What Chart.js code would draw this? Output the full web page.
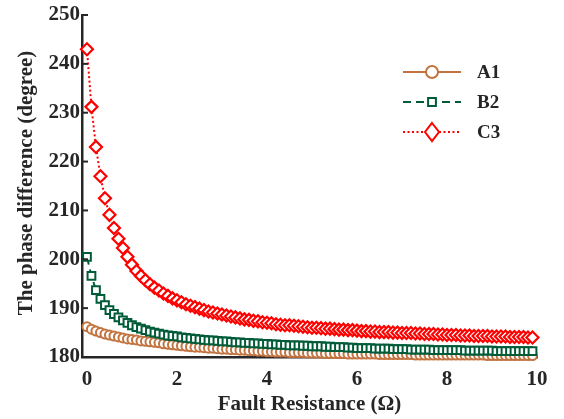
<!DOCTYPE html>
<html>
<head>
<meta charset="utf-8">
<script src="https://cdn.jsdelivr.net/npm/chart.js@4.4.0/dist/chart.umd.min.js"></script>
<style>
html, body { margin: 0; padding: 0; background: #fff; }
</style>
</head>
<body>
<canvas id="phase-chart" width="564" height="419"></canvas>
<script>
// Fault resistance (ohm)
var resistance = [0,0.1,0.2,0.3,0.4,0.5,0.6,0.7,0.8,0.9,1,1.1,1.2,1.3,1.4,1.5,1.6,1.7,1.8,1.9,
  2,2.1,2.2,2.3,2.4,2.5,2.6,2.7,2.8,2.9,3,3.1,3.2,3.3,3.4,3.5,3.6,3.7,3.8,3.9,
  4,4.1,4.2,4.3,4.4,4.5,4.6,4.7,4.8,4.9,5,5.1,5.2,5.3,5.4,5.5,5.6,5.7,5.8,5.9,
  6,6.1,6.2,6.3,6.4,6.5,6.6,6.7,6.8,6.9,7,7.1,7.2,7.3,7.4,7.5,7.6,7.7,7.8,7.9,
  8,8.1,8.2,8.3,8.4,8.5,8.6,8.7,8.8,8.9,9,9.1,9.2,9.3,9.4,9.5,9.6,9.7,9.8,9.9];

// phase difference (degree)
var seriesA1 = [186.2,185.7,185.3,185.0,184.7,184.5,184.3,184.1,183.9,183.7,183.6,183.5,183.3,183.2,183.1,183.0,182.9,182.7,182.6,182.5,
  182.4,182.3,182.2,182.1,182.0,182.0,181.9,181.8,181.8,181.7,181.6,181.6,181.5,181.5,181.4,181.4,181.3,181.3,181.2,181.2,
  181.1,181.1,181.0,181.0,181.0,180.9,180.9,180.9,180.9,180.8,180.8,180.8,180.8,180.7,180.7,180.7,180.7,180.7,180.6,180.6,
  180.6,180.6,180.6,180.6,180.6,180.5,180.5,180.5,180.5,180.5,180.5,180.5,180.5,180.4,180.4,180.4,180.4,180.4,180.4,180.4,
  180.4,180.4,180.4,180.4,180.4,180.4,180.4,180.4,180.4,180.3,180.3,180.3,180.3,180.3,180.3,180.3,180.3,180.3,180.3,180.3];
var seriesB2 = [200.5,196.6,193.7,191.9,190.6,189.6,188.8,188.1,187.5,187.0,186.5,186.1,185.8,185.5,185.2,185.0,184.8,184.6,184.4,184.3,
  184.2,184.0,183.9,183.8,183.7,183.6,183.5,183.4,183.4,183.3,183.2,183.2,183.1,183.0,183.0,182.9,182.9,182.8,182.8,182.7,
  182.7,182.6,182.6,182.5,182.5,182.4,182.4,182.4,182.3,182.3,182.2,182.2,182.2,182.1,182.1,182.0,182.0,182.0,181.9,181.9,
  181.8,181.8,181.8,181.8,181.7,181.7,181.7,181.7,181.6,181.6,181.6,181.6,181.5,181.5,181.5,181.5,181.5,181.4,181.4,181.4,
  181.4,181.4,181.4,181.4,181.3,181.3,181.3,181.3,181.3,181.3,181.3,181.2,181.2,181.2,181.2,181.2,181.2,181.2,181.2,181.2];
var seriesC3 = [243.0,231.2,223.0,217.0,212.5,209.1,206.4,204.2,202.3,200.5,198.9,197.6,196.6,195.7,194.9,194.2,193.6,193.0,192.5,192.0,
  191.6,191.2,190.8,190.5,190.2,189.9,189.6,189.3,189.1,188.9,188.7,188.5,188.3,188.1,187.9,187.7,187.6,187.4,187.3,187.1,
  187.0,186.9,186.7,186.6,186.5,186.5,186.4,186.3,186.2,186.1,186.0,186.0,185.9,185.8,185.8,185.7,185.6,185.6,185.5,185.5,
  185.4,185.3,185.3,185.2,185.2,185.1,185.1,185.1,185.0,185.0,184.9,184.9,184.9,184.8,184.8,184.7,184.7,184.7,184.6,184.6,
  184.5,184.5,184.5,184.4,184.4,184.4,184.3,184.3,184.3,184.3,184.2,184.2,184.2,184.2,184.1,184.1,184.1,184.1,184.0,184.0];

var seriesNames = ["A1", "B2", "C3"];
var xTicks = [0, 2, 4, 6, 8, 10];
var yTicks = [180, 190, 200, 210, 220, 230, 240, 250];
var yTitle = "The phase difference (degree)";

var textColor = "#262626";
var axisColor = "#262626";
var fontFamily = "'Liberation Serif', 'Times New Roman', serif";

function toPoints(values) {
    return resistance.map(function(x, i) { return { x: x, y: values[i] }; });
}

// legend with line sample + marker, like matlab; also inward y ticks and y title
var legendPlugin = {
    id: "matlabLegend",
    afterDraw: function(chart) {
        var ctx = chart.ctx;
        var xs = chart.scales.x, ys = chart.scales.y;
        ctx.save();
        ctx.strokeStyle = axisColor;
        ctx.lineWidth = 2;
        ctx.setLineDash([]);
        yTicks.forEach(function(v) {
            var py = ys.getPixelForValue(v);
            ctx.beginPath();
            ctx.moveTo(xs.left, py);
            ctx.lineTo(xs.left + 6, py);
            ctx.stroke();
        });

        // y axis title
        ctx.save();
        ctx.translate(27, (ys.top + ys.bottom) / 2 - 3);
        ctx.rotate(-Math.PI / 2);
        ctx.fillStyle = textColor;
        ctx.font = "bold 21px " + fontFamily;
        ctx.textAlign = "center";
        ctx.textBaseline = "middle";
        ctx.fillText(yTitle, 0, 0);
        ctx.restore();

        chart.data.datasets.forEach(function(ds, i) {
            var y = 72 + i * 30;
            ctx.strokeStyle = ds.borderColor;
            ctx.lineWidth = 2;
            ctx.setLineDash(ds.borderDash || []);
            ctx.beginPath();
            ctx.moveTo(403, y);
            ctx.lineTo(461, y);
            ctx.stroke();
            ctx.setLineDash([]);
            ctx.fillStyle = "#fff";
            ctx.lineWidth = 2;
            var cx = 432, r = ds.pointRadius + 1;
            ctx.beginPath();
            if (ds.pointStyle === "circle") {
                ctx.arc(cx, y, r + 0.5, 0, Math.PI * 2);
            } else if (ds.pointStyle === "rect") {
                var s = r * 0.6;
                ctx.rect(cx - s, y - s, 2 * s, 2 * s);
            } else {
                ctx.moveTo(cx, y - r - 2);
                ctx.lineTo(cx + r, y);
                ctx.lineTo(cx, y + r + 2);
                ctx.lineTo(cx - r, y);
                ctx.closePath();
            }
            ctx.fill();
            ctx.stroke();
            ctx.fillStyle = textColor;
            ctx.font = "bold 19px " + fontFamily;
            ctx.textBaseline = "middle";
            ctx.textAlign = "left";
            ctx.fillText(ds.label, 477, y + 1);
        });
        ctx.restore();
    }
};

var ctx = document.getElementById("phase-chart");
var config = {
    type: "scatter",
    data: {
        datasets: [{
            label: seriesNames[0],
            data: toPoints(seriesA1),
            showLine: true,
            borderColor: "#C2733F",
            backgroundColor: "#fff",
            borderWidth: 2,
            pointStyle: "circle",
            pointRadius: 4.5,
            pointBorderWidth: 2,
            pointBackgroundColor: "#fff",
            clip: false,
            order: 2
        }, {
            label: seriesNames[1],
            data: toPoints(seriesB2),
            showLine: true,
            borderColor: "#005C38",
            backgroundColor: "#fff",
            borderWidth: 2,
            borderDash: [8, 5],
            pointStyle: "rect",
            pointRadius: 5.5,
            pointBorderWidth: 2,
            pointBackgroundColor: "#fff",
            clip: false,
            order: 1
        }, {
            label: seriesNames[2],
            data: toPoints(seriesC3),
            showLine: true,
            borderColor: "#FF0000",
            backgroundColor: "#fff",
            borderWidth: 2,
            borderDash: [2, 2.5],
            pointStyle: "rectRot",
            pointRadius: 6,
            pointBorderWidth: 2.2,
            pointBackgroundColor: "#fff",
            clip: false,
            order: 0
        }]
    },
    options: {
        responsive: false,
        animation: false,
        devicePixelRatio: 1,
        layout: { padding: { top: 15, right: 27, left: 0, bottom: 0 } },
        plugins: { legend: { display: false }, tooltip: { enabled: false } },
        scales: {
            x: {
                type: "linear",
                min: -0.11,
                max: 10,
                afterBuildTicks: function(scale) {
                    scale.ticks = xTicks.map(function(v) { return { value: v }; });
                },
                afterFit: function(scale) { scale.height = 62; },
                grid: { display: false, drawTicks: false },
                border: { display: true, color: axisColor, width: 2.5 },
                ticks: {
                    padding: 10,
                    color: textColor,
                    font: { family: fontFamily, size: 21, weight: "bold" },
                    maxRotation: 0
                },
                title: {
                    display: true,
                    text: "Fault Resistance (Ω)",
                    color: textColor,
                    font: { family: fontFamily, size: 21, weight: "bold" },
                    padding: { top: 0, bottom: 2 }
                }
            },
            y: {
                type: "linear",
                min: 180,
                max: 250,
                afterBuildTicks: function(scale) {
                    scale.ticks = yTicks.map(function(v) { return { value: v }; });
                },
                afterFit: function(scale) { scale.width = 82; },
                grid: { display: false, drawTicks: false },
                border: { display: true, color: axisColor, width: 2.5 },
                ticks: {
                    padding: 2,
                    color: textColor,
                    font: { family: fontFamily, size: 21, weight: "bold" }
                },
                title: { display: false }
            }
        }
    },
    plugins: [legendPlugin]
};

var phaseChart = new Chart(ctx, config);
</script>
</body>
</html>
